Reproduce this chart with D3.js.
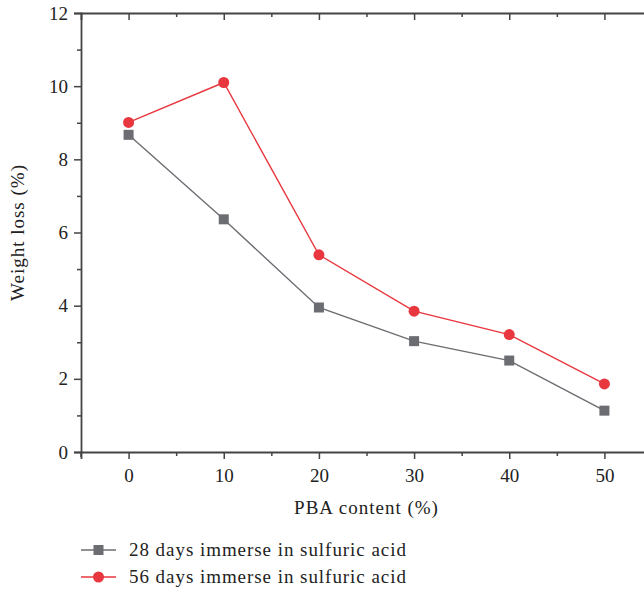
<!DOCTYPE html>
<html>
<head>
<meta charset="utf-8">
<script src="https://cdn.jsdelivr.net/npm/d3@7"></script>
<style>
  body { margin: 0; background: #fff; }
  text { font-family: "Liberation Serif", "DejaVu Serif", serif; fill: #222; }
</style>
</head>
<body>
<script>
// PBA content (%) on x, weight loss (%) on y
const pba = [0, 10, 20, 30, 40, 50]
const loss28 = [8.67, 6.36, 3.95, 3.03, 2.50, 1.13]
const loss56 = [9.01, 10.10, 5.39, 3.85, 3.21, 1.86]
const seriesNames = ['28 days immerse in sulfuric acid', '56 days immerse in sulfuric acid']
const xTicks = [0, 10, 20, 30, 40, 50]
const yTicks = [0, 2, 4, 6, 8, 10, 12]

const width = 644, height = 592
const margin = {top: 13, left: 81}
const plotW = 571, plotH = 439

const grey = '#6c6d72', red = '#e8373e'

const svg = d3.select('body')
  .append('svg')
  .attr('width', width)
  .attr('height', height)

const g = svg.append('g')
  .attr('transform', `translate(${margin.left},${margin.top})`)

const x = d3.scaleLinear().domain([-5, 55]).range([0, plotW])
const y = d3.scaleLinear().domain([0, 12]).range([plotH, 0])

/* minor ticks */
const xMinor = d3.range(5, 56, 10)
const yMinor = d3.range(1, 12, 2)

// bottom axis
g.append('g')
  .attr('transform', `translate(0,${plotH})`)
  .call(d3.axisBottom(x).tickValues(xTicks).tickSize(7).tickPadding(10).tickFormat(d3.format('d')))
g.append('g')
  .attr('transform', `translate(0,${plotH})`)
  .call(d3.axisBottom(x).tickValues(xMinor).tickSize(4).tickFormat(''))
  .call(a => a.select('.domain').remove())

// top axis (inward ticks)
g.append('g')
  .call(d3.axisBottom(x).tickValues(xTicks).tickSize(7).tickFormat(''))
g.append('g')
  .call(d3.axisBottom(x).tickValues(xMinor).tickSize(4).tickFormat(''))
  .call(a => a.select('.domain').remove())

// left axis
g.append('g')
  .call(d3.axisLeft(y).tickValues(yTicks).tickSize(7).tickPadding(6))
g.append('g')
  .call(d3.axisLeft(y).tickValues(yMinor).tickSize(4).tickFormat(''))
  .call(a => a.select('.domain').remove())

// right axis (mostly off-canvas)
g.append('g')
  .attr('transform', `translate(${plotW},0)`)
  .call(d3.axisRight(y).tickValues(yTicks).tickSize(-7).tickFormat(''))

g.selectAll('.domain').attr('stroke', '#444').attr('stroke-width', 1.8)
g.selectAll('.tick line').attr('stroke', '#444').attr('stroke-width', 1.5)
g.selectAll('.tick text')
  .attr('font-size', 19)
  .attr('font-family', '"Liberation Serif", serif')
  .attr('fill', '#222')

// extend left spine slightly below the corner
g.append('line')
  .attr('x1', 0).attr('x2', 0)
  .attr('y1', plotH).attr('y2', plotH + 5)
  .attr('stroke', '#444').attr('stroke-width', 1.5)

// axis titles
g.append('text')
  .attr('x', x(25)).attr('y', plotH + 62)
  .attr('text-anchor', 'middle')
  .attr('font-size', 19)
  .attr('letter-spacing', 1)
  .text('PBA content (%)')

g.append('text')
  .attr('transform', `translate(${-57},${plotH / 2}) rotate(-90)`)
  .attr('text-anchor', 'middle')
  .attr('font-size', 19)
  .attr('letter-spacing', 1)
  .text('Weight loss (%)')

// lines + markers
const line = d3.line().x((d, i) => x(pba[i])).y(d => y(d))

g.append('path').datum(loss28)
  .attr('d', line).attr('fill', 'none')
  .attr('stroke', grey).attr('stroke-width', 1.4)
g.append('path').datum(loss56)
  .attr('d', line).attr('fill', 'none')
  .attr('stroke', red).attr('stroke-width', 1.4)

g.selectAll('rect.s28')
  .data(loss28)
  .enter().append('rect')
  .attr('class', 's28')
  .attr('x', (d, i) => x(pba[i]) - 5)
  .attr('y', d => y(d) - 5)
  .attr('width', 10).attr('height', 10)
  .attr('fill', grey)

g.selectAll('circle.s56')
  .data(loss56)
  .enter().append('circle')
  .attr('class', 's56')
  .attr('cx', (d, i) => x(pba[i]))
  .attr('cy', d => y(d))
  .attr('r', 5.5)
  .attr('fill', red)

// legend
const legend = svg.append('g').attr('transform', 'translate(81,550)')
seriesNames.forEach((name, i) => {
  const row = legend.append('g').attr('transform', `translate(0,${i * 27})`)
  const c = i === 0 ? grey : red
  row.append('line').attr('x1', 0).attr('x2', 35).attr('y1', 0).attr('y2', 0)
    .attr('stroke', c).attr('stroke-width', 1.4)
  if (i === 0) {
    row.append('rect').attr('x', 12.5).attr('y', -5).attr('width', 10).attr('height', 10).attr('fill', c)
  } else {
    row.append('circle').attr('cx', 17.5).attr('cy', 0).attr('r', 5.5).attr('fill', c)
  }
  row.append('text')
    .attr('x', 48).attr('y', 6)
    .attr('font-size', 19)
    .attr('letter-spacing', 0.95)
    .text(name)
})
</script>
</body>
</html>
